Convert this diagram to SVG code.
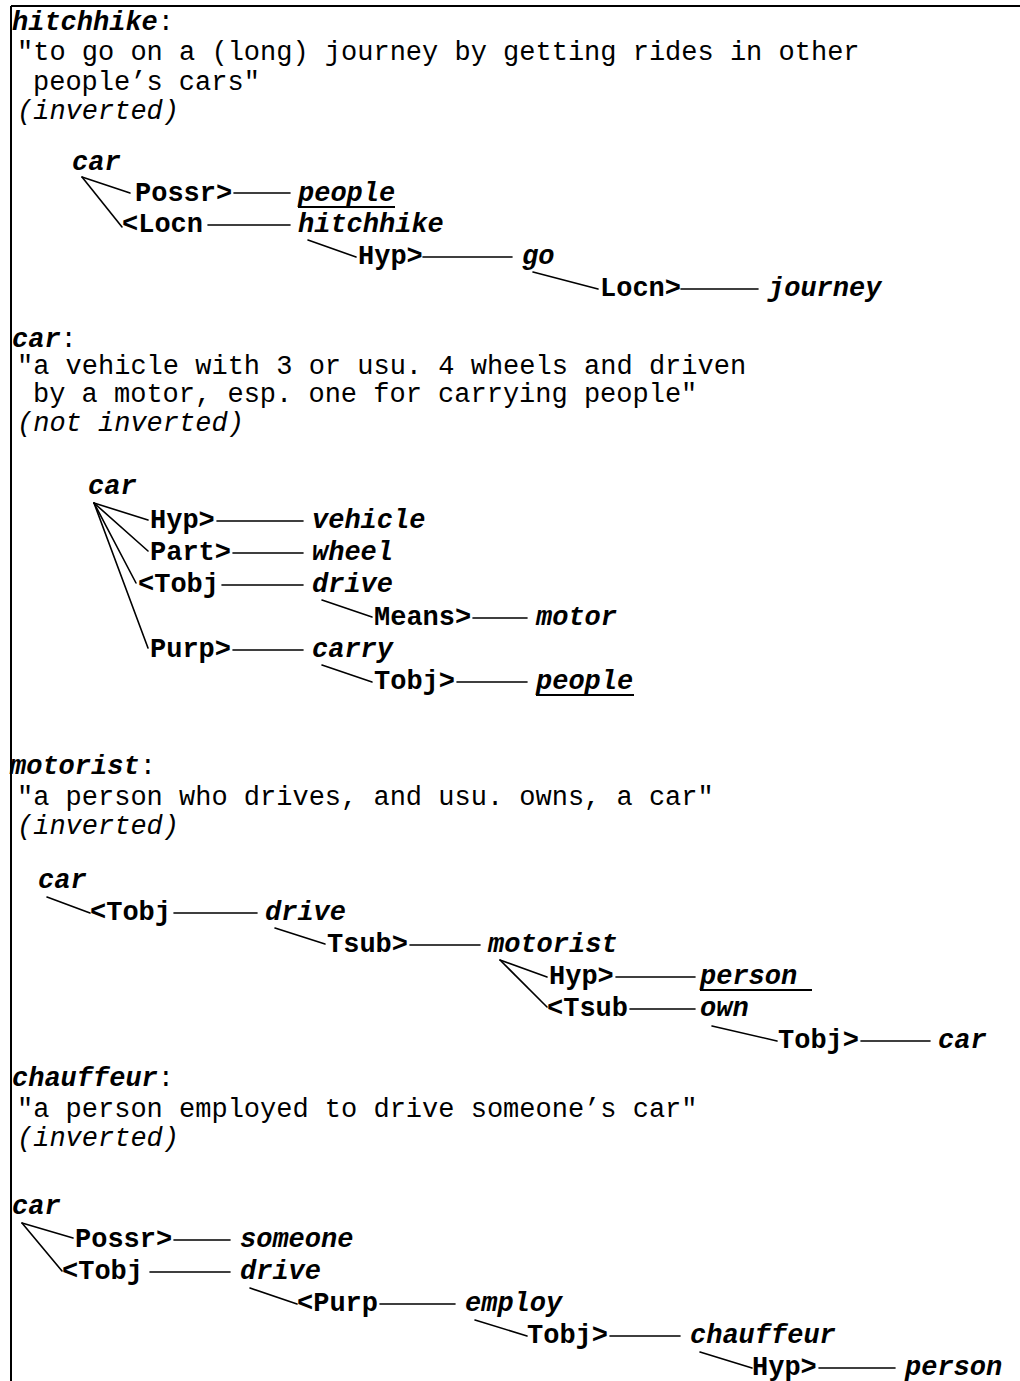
<svg xmlns="http://www.w3.org/2000/svg" width="1020" height="1381" viewBox="0 0 1020 1381">
<style>
text{font-family:"Liberation Mono","Courier New",monospace;font-size:27px;fill:#000}
.w{font-weight:bold;font-style:italic}
.r{font-weight:bold}
.i{font-style:italic}
.c line{stroke:#000;stroke-width:1.6;stroke-linecap:round}
.u{stroke:#000;stroke-width:2}
.b{stroke:#000;stroke-width:2}
</style>
<rect width="1020" height="1381" fill="#fff"/>
<line class="b" x1="11" y1="6" x2="1020" y2="6"/>
<line class="b" x1="11" y1="6" x2="11" y2="1381"/>

<g id="def-hitchhike">
<text x="12" y="30"><tspan class="w">hitchhike</tspan>:</text>
<text x="17" y="60">"to go on a (long) journey by getting rides in other</text>
<text x="33" y="90">people’s cars"</text>
<text x="17" y="119" class="i">(inverted)</text>
</g>
<g id="t1-car"><text x="72" y="170" class="w">car</text></g>
<g id="t1-possr"><text x="135" y="201" class="r">Possr&gt;</text></g>
<g id="t1-people"><text x="298" y="201" class="w">people</text><line class="u" x1="298" y1="207" x2="395" y2="207"/></g>
<g id="t1-locn"><text x="122" y="232" class="r">&lt;Locn</text></g>
<g id="t1-hitchhike"><text x="298" y="232" class="w">hitchhike</text></g>
<g id="t1-hyp"><text x="358" y="264" class="r">Hyp&gt;</text></g>
<g id="t1-go"><text x="522" y="264" class="w">go</text></g>
<g id="t1-locn2"><text x="600" y="296" class="r">Locn&gt;</text></g>
<g id="t1-journey"><text x="768" y="296" class="w">journey</text></g>

<g id="def-car">
<text x="12" y="347"><tspan class="w">car</tspan>:</text>
<text x="17" y="374">"a vehicle with 3 or usu. 4 wheels and driven</text>
<text x="33" y="402">by a motor, esp. one for carrying people"</text>
<text x="17" y="431" class="i">(not inverted)</text>
</g>
<g id="t2-car"><text x="88" y="494" class="w">car</text></g>
<g id="t2-hyp"><text x="150" y="528" class="r">Hyp&gt;</text></g>
<g id="t2-vehicle"><text x="312" y="528" class="w">vehicle</text></g>
<g id="t2-part"><text x="150" y="560" class="r">Part&gt;</text></g>
<g id="t2-wheel"><text x="312" y="560" class="w">wheel</text></g>
<g id="t2-tobj"><text x="138" y="592" class="r">&lt;Tobj</text></g>
<g id="t2-drive"><text x="312" y="592" class="w">drive</text></g>
<g id="t2-means"><text x="374" y="625" class="r">Means&gt;</text></g>
<g id="t2-motor"><text x="536" y="625" class="w">motor</text></g>
<g id="t2-purp"><text x="150" y="657" class="r">Purp&gt;</text></g>
<g id="t2-carry"><text x="312" y="657" class="w">carry</text></g>
<g id="t2-tobj2"><text x="374" y="689" class="r">Tobj&gt;</text></g>
<g id="t2-people"><text x="536" y="689" class="w">people</text><line class="u" x1="536" y1="695" x2="634" y2="695"/></g>

<g id="def-motorist">
<text x="10" y="774"><tspan class="w">motorist</tspan>:</text>
<text x="17" y="805">"a person who drives, and usu. owns, a car"</text>
<text x="17" y="834" class="i">(inverted)</text>
</g>
<g id="t3-car"><text x="38" y="888" class="w">car</text></g>
<g id="t3-tobj"><text x="90" y="920" class="r">&lt;Tobj</text></g>
<g id="t3-drive"><text x="265" y="920" class="w">drive</text></g>
<g id="t3-tsub"><text x="327" y="952" class="r">Tsub&gt;</text></g>
<g id="t3-motorist"><text x="488" y="952" class="w">motorist</text></g>
<g id="t3-hyp"><text x="549" y="984" class="r">Hyp&gt;</text></g>
<g id="t3-person"><text x="700" y="984" class="w">person</text><line class="u" x1="700" y1="990" x2="812" y2="990"/></g>
<g id="t3-tsub2"><text x="547" y="1016" class="r">&lt;Tsub</text></g>
<g id="t3-own"><text x="700" y="1016" class="w">own</text></g>
<g id="t3-tobj2"><text x="778" y="1048" class="r">Tobj&gt;</text></g>
<g id="t3-car2"><text x="938" y="1048" class="w">car</text></g>

<g id="def-chauffeur">
<text x="12" y="1086"><tspan class="w">chauffeur</tspan>:</text>
<text x="17" y="1117">"a person employed to drive someone’s car"</text>
<text x="17" y="1146" class="i">(inverted)</text>
</g>
<g id="t4-car"><text x="12" y="1214" class="w">car</text></g>
<g id="t4-possr"><text x="75" y="1247" class="r">Possr&gt;</text></g>
<g id="t4-someone"><text x="240" y="1247" class="w">someone</text></g>
<g id="t4-tobj"><text x="62" y="1279" class="r">&lt;Tobj</text></g>
<g id="t4-drive"><text x="240" y="1279" class="w">drive</text></g>
<g id="t4-purp"><text x="297" y="1311" class="r">&lt;Purp</text></g>
<g id="t4-employ"><text x="465" y="1311" class="w">employ</text></g>
<g id="t4-tobj2"><text x="527" y="1343" class="r">Tobj&gt;</text></g>
<g id="t4-chauffeur"><text x="690" y="1343" class="w">chauffeur</text></g>
<g id="t4-hyp"><text x="752" y="1375" class="r">Hyp&gt;</text></g>
<g id="t4-person"><text x="905" y="1375" class="w">person</text></g>

<g id="connectors" class="c">
<line x1="82" y1="177" x2="130" y2="193"/>
<line x1="82" y1="177" x2="122" y2="227"/>
<line x1="234" y1="193" x2="290" y2="193"/>
<line x1="208" y1="225" x2="290" y2="225"/>
<line x1="308" y1="240" x2="356" y2="257"/>
<line x1="423" y1="257" x2="512" y2="257"/>
<line x1="533" y1="272" x2="598" y2="289"/>
<line x1="681" y1="289" x2="758" y2="289"/>

<line x1="94" y1="503" x2="148" y2="520"/>
<line x1="94" y1="503" x2="148" y2="551"/>
<line x1="94" y1="503" x2="136" y2="583"/>
<line x1="94" y1="503" x2="148" y2="648"/>
<line x1="217" y1="521" x2="303" y2="521"/>
<line x1="233" y1="553" x2="303" y2="553"/>
<line x1="222" y1="585" x2="303" y2="585"/>
<line x1="322" y1="600" x2="372" y2="617"/>
<line x1="473" y1="618" x2="527" y2="618"/>
<line x1="233" y1="650" x2="303" y2="650"/>
<line x1="322" y1="665" x2="372" y2="682"/>
<line x1="457" y1="682" x2="527" y2="682"/>

<line x1="47" y1="897" x2="90" y2="913"/>
<line x1="174" y1="913" x2="257" y2="913"/>
<line x1="275" y1="928" x2="325" y2="944"/>
<line x1="410" y1="945" x2="480" y2="945"/>
<line x1="500" y1="960" x2="547" y2="977"/>
<line x1="500" y1="960" x2="547" y2="1007"/>
<line x1="616" y1="977" x2="695" y2="977"/>
<line x1="630" y1="1009" x2="695" y2="1009"/>
<line x1="712" y1="1026" x2="777" y2="1041"/>
<line x1="861" y1="1041" x2="930" y2="1041"/>

<line x1="22" y1="1223" x2="73" y2="1238"/>
<line x1="22" y1="1223" x2="62" y2="1271"/>
<line x1="174" y1="1240" x2="230" y2="1240"/>
<line x1="150" y1="1272" x2="230" y2="1272"/>
<line x1="250" y1="1288" x2="297" y2="1304"/>
<line x1="380" y1="1304" x2="455" y2="1304"/>
<line x1="475" y1="1320" x2="527" y2="1336"/>
<line x1="610" y1="1336" x2="680" y2="1336"/>
<line x1="700" y1="1352" x2="752" y2="1368"/>
<line x1="819" y1="1368" x2="895" y2="1368"/>
</g>
</svg>
